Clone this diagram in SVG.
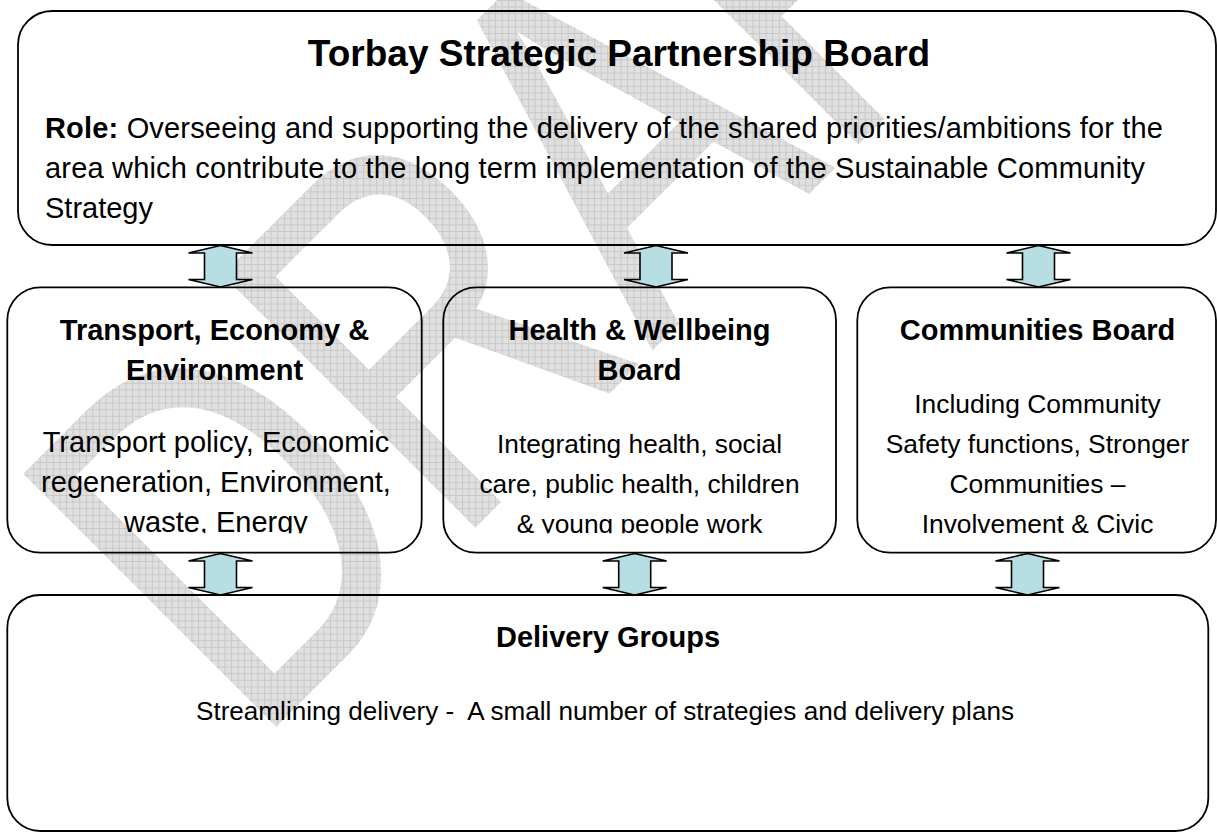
<svg xmlns="http://www.w3.org/2000/svg" xmlns:xlink="http://www.w3.org/1999/xlink" width="1217" height="834" viewBox="0 0 1217 834">
<style>
.box{fill:none;stroke:#000;stroke-width:1.8}
.t{font-family:"Liberation Sans",Arial,sans-serif;fill:#000}
.b{font-weight:bold}
.h{font-size:29px;font-weight:bold;text-anchor:middle}
.m{text-anchor:middle}
.arr{fill:#b7dee2;stroke:#000;stroke-width:1.6;stroke-linejoin:miter}
</style>
<defs>
<pattern id="grid" width="6.6" height="6.6" patternUnits="userSpaceOnUse" patternTransform="scale(1.33333 1) rotate(45) translate(-253.6 -749.4)">
<rect width="6.6" height="6.6" fill="#e0e0e0"/>
<path d="M0 0.5H6.6M0.5 0V6.6" stroke="#c8c8c8" stroke-width="1"/>
</pattern>
<path id="arr" d="M0 0L32 7.5L16 7.5L16 34L32 34L0 41.5L-32 34L-16 34L-16 7.5L-32 7.5Z"/>
<clipPath id="clipMid"><rect x="0" y="280" width="1217" height="253.3"/></clipPath>
</defs>
<rect width="1217" height="834" fill="#fff"/>
<g id="watermark">
<text class="t" x="0" y="0" font-size="520" transform="translate(253.6 749.4) rotate(-45) scale(0.75 1)" style="fill:url(#grid)">DRAFT</text>
</g>
<g id="connectors">
<use href="#arr" class="arr" x="220.5" y="245.5"/>
<use href="#arr" class="arr" x="656" y="245.5"/>
<use href="#arr" class="arr" x="1038.5" y="245.5"/>
<use href="#arr" class="arr" x="220.5" y="553.5"/>
<use href="#arr" class="arr" x="634.7" y="553.5"/>
<use href="#arr" class="arr" x="1027.5" y="553.5"/>
</g>
<g id="board">
<rect class="box" x="18" y="11" width="1198" height="234" rx="34"/>
<text class="t b m" x="619" y="66" font-size="37">Torbay Strategic Partnership Board</text>
<text class="t" x="45" y="138.3" font-size="29" textLength="1118" lengthAdjust="spacing"><tspan class="b">Role:</tspan> Overseeing and supporting the delivery of the shared priorities/ambitions for the</text>
<text class="t" x="45" y="178.3" font-size="29" textLength="1100" lengthAdjust="spacing">area which contribute to the long term implementation of the Sustainable Community</text>
<text class="t" x="45" y="218.3" font-size="29">Strategy</text>
</g>
<g id="transport">
<rect class="box" x="7.3" y="287.3" width="414.4" height="265.4" rx="33"/>
<text class="t h" x="214.5" y="340">Transport, Economy &amp;</text>
<text class="t h" x="214.5" y="380">Environment</text>
<g clip-path="url(#clipMid)">
<text class="t m" x="216" y="451.7" font-size="29">Transport policy, Economic</text>
<text class="t m" x="216" y="491.7" font-size="29">regeneration, Environment,</text>
<text class="t m" x="216" y="531.7" font-size="29">waste, Energy</text>
</g>
</g>
<g id="health">
<rect class="box" x="443.3" y="287.3" width="392.7" height="265.4" rx="33"/>
<text class="t h" x="639.5" y="340">Health &amp; Wellbeing</text>
<text class="t h" x="639.5" y="380">Board</text>
<g clip-path="url(#clipMid)">
<text class="t m" x="639.5" y="452.7" font-size="26.3">Integrating health, social</text>
<text class="t m" x="639.5" y="492.7" font-size="26.3">care, public health, children</text>
<text class="t m" x="639.5" y="532.7" font-size="26.3">&amp; young people work</text>
</g>
</g>
<g id="communities">
<rect class="box" x="857.3" y="287.3" width="358.7" height="265.4" rx="33"/>
<text class="t h" x="1037.5" y="340">Communities Board</text>
<g clip-path="url(#clipMid)">
<text class="t m" x="1037.5" y="413.3" font-size="26.4">Including Community</text>
<text class="t m" x="1037.5" y="452.7" font-size="26.4">Safety functions, Stronger</text>
<text class="t m" x="1037.5" y="492.7" font-size="26.4">Communities –</text>
<text class="t m" x="1037.5" y="532.7" font-size="26.4">Involvement &amp; Civic</text>
</g>
</g>
<g id="delivery">
<rect class="box" x="7.3" y="595" width="1201" height="236" rx="33"/>
<text class="t h" x="608" y="647.3">Delivery Groups</text>
<text class="t m" x="605" y="720" font-size="26.1">Streamlining delivery -&#160; A small number of strategies and delivery plans</text>
</g>
</svg>
